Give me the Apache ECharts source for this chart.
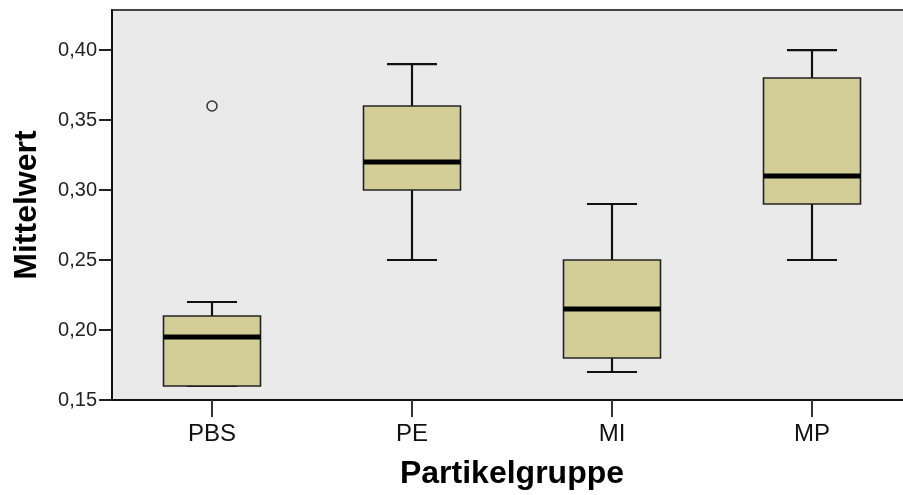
<!DOCTYPE html>
<html>
<head>
<meta charset="utf-8">
<script src="https://cdn.jsdelivr.net/npm/echarts@6/dist/echarts.min.js"></script>
<style>
  html, body { margin: 0; padding: 0; background: #fff; }
  #main { width: 903px; height: 495px; }
</style>
</head>
<body>
<div id="main"></div>
<script>
// Gruppen (x-Achse)
var categories = ['PBS', 'PE', 'MI', 'MP'];
// Boxplot-Kennwerte je Gruppe: min, Q1, Median, Q3, max
var whiskerLow = [0.16, 0.25, 0.17, 0.25];
var quart1     = [0.16, 0.30, 0.18, 0.29];
var medians    = [0.195, 0.32, 0.215, 0.31];
var quart3     = [0.21, 0.36, 0.25, 0.38];
var whiskerHigh = [0.22, 0.39, 0.29, 0.40];
// Ausreisser: [Gruppe, Wert]
var outliers = [['PBS', 0.36]];
// Achsenbeschriftung
var yTicks = [0.15, 0.20, 0.25, 0.30, 0.35, 0.40];

var FONT = 'Liberation Sans, Arial, sans-serif';

var boxData = categories.map(function (c, i) {
  return [i, whiskerLow[i], quart1[i], medians[i], quart3[i], whiskerHigh[i]];
});

function renderBox(params, api) {
  var x = api.value(0);
  var band = api.size([1, 0])[0];
  var boxW = band * 0.485;
  var capW = band * 0.25;
  var pLow = api.coord([x, api.value(1)]);
  var pQ1 = api.coord([x, api.value(2)]);
  var pMed = api.coord([x, api.value(3)]);
  var pQ3 = api.coord([x, api.value(4)]);
  var pHigh = api.coord([x, api.value(5)]);
  var pAxis = api.coord([x, yTicks[0]]);
  var cx = pQ1[0];
  var lineStyle = { stroke: '#111', lineWidth: 2.2 };
  return {
    type: 'group',
    children: [
      // Teilstrich unter der Kategorie
      { type: 'line', shape: { x1: cx, y1: pAxis[1], x2: cx, y2: pAxis[1] + 17 }, style: { stroke: '#333', lineWidth: 2 } },
      { type: 'line', shape: { x1: cx, y1: pHigh[1], x2: cx, y2: pQ3[1] }, style: lineStyle },
      { type: 'line', shape: { x1: cx, y1: pQ1[1], x2: cx, y2: pLow[1] }, style: lineStyle },
      { type: 'line', shape: { x1: cx - capW / 2, y1: pHigh[1], x2: cx + capW / 2, y2: pHigh[1] }, style: lineStyle },
      { type: 'line', shape: { x1: cx - capW / 2, y1: pLow[1], x2: cx + capW / 2, y2: pLow[1] }, style: lineStyle },
      {
        type: 'rect',
        shape: { x: cx - boxW / 2, y: pQ3[1], width: boxW, height: pQ1[1] - pQ3[1] },
        style: { fill: '#D3CE98', stroke: '#222', lineWidth: 1.6 }
      },
      { type: 'line', shape: { x1: cx - boxW / 2, y1: pMed[1], x2: cx + boxW / 2, y2: pMed[1] }, style: { stroke: '#000', lineWidth: 5 } }
    ]
  };
}

var myChart = echarts.init(document.getElementById('main'));
myChart.setOption({
  animation: false,
  grid: {
    left: 112, top: 10, width: 800, bottom: 95,
    outerBoundsMode: 'none',
    containLabel: false,
    show: true, backgroundColor: '#EAEAEA', borderColor: '#444', borderWidth: 2
  },
  xAxis: {
    type: 'category',
    data: categories,
    name: 'Partikelgruppe',
    nameLocation: 'middle',
    nameGap: 58,
    nameTextStyle: { fontFamily: FONT, fontSize: 32, fontWeight: 'bold', color: '#000' },
    axisLine: { show: true, lineStyle: { color: '#111', width: 2 } },
    axisTick: { show: true, interval: 0, alignWithLabel: true, length: 17, lineStyle: { color: '#333', width: 2 } },
    axisLabel: { margin: 22, fontFamily: FONT, fontSize: 24, color: '#111' },
    splitLine: { show: false }
  },
  yAxis: {
    type: 'value',
    min: 0.15,
    max: 0.4286,
    interval: 0.05,
    name: 'Mittelwert',
    nameLocation: 'middle',
    nameGap: 69,
    nameTextStyle: { fontFamily: FONT, fontSize: 32, fontWeight: 'bold', color: '#000' },
    axisLine: { show: true, lineStyle: { color: '#111', width: 2 } },
    axisTick: { show: true, length: 13, customValues: yTicks, lineStyle: { color: '#222', width: 2 } },
    axisLabel: {
      margin: 15, fontFamily: FONT, fontSize: 20, color: '#222',
      customValues: yTicks,
      formatter: function (v) { return v.toFixed(2).replace('.', ','); }
    },
    splitLine: { show: false }
  },
  series: [
    {
      type: 'custom',
      renderItem: renderBox,
      clip: false,
      data: boxData,
      encode: { x: 0, y: [1, 2, 3, 4, 5] }
    },
    {
      type: 'scatter',
      data: outliers,
      symbol: 'circle',
      symbolSize: 10,
      itemStyle: { color: '#EAEAEA', borderColor: '#333', borderWidth: 1.5, opacity: 1 }
    }
  ]
});
</script>
</body>
</html>
